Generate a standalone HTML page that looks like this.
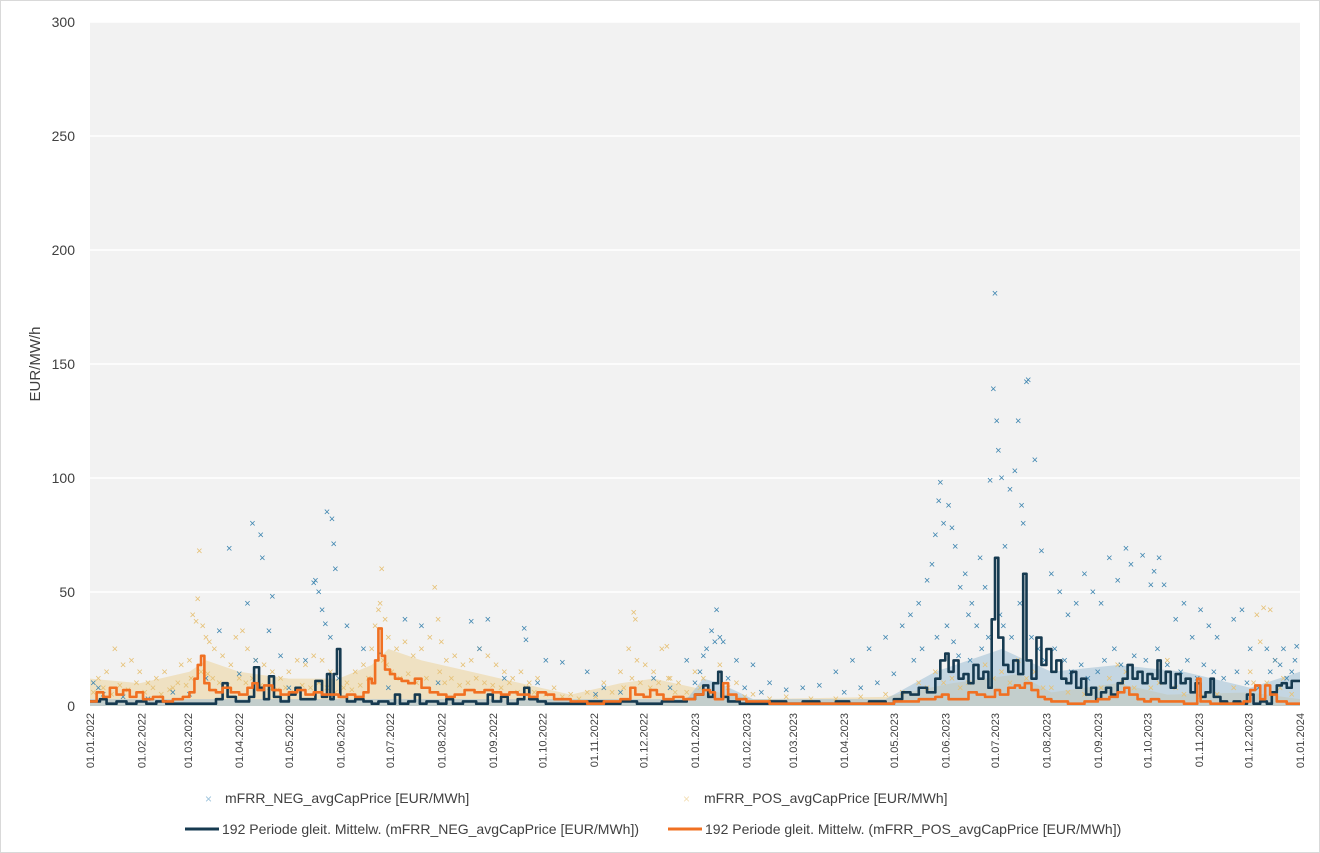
<!DOCTYPE html>
<html><head><meta charset="utf-8"><style>
body{margin:0;background:#fff;}
#wrap{position:relative;width:1320px;height:853px;overflow:hidden;font-family:"Liberation Sans",sans-serif;}
svg text{font-family:"Liberation Sans",sans-serif;fill:#404040;}
</style></head><body>
<div id="wrap">
<svg id="chart" width="1320" height="853">
<rect x="0.5" y="0.5" width="1319" height="852" fill="#fff" stroke="#d9d9d9"/>
<rect x="90" y="22" width="1210" height="684" fill="#f2f2f2"/>
<g id="grid"></g><g id="haze"></g><g id="scatter"></g><g id="lines"></g><g id="axes"></g>
<text x="40" y="364" font-size="15" text-anchor="middle" transform="rotate(-90 40 364)">EUR/MW/h</text>
<g>
<text x="205" y="803" font-size="12" style="fill:#9cc3dc">×</text>
<text x="225" y="803" font-size="14">mFRR_NEG_avgCapPrice [EUR/MWh]</text>
<text x="683" y="803" font-size="12" style="fill:#f3dfb5">×</text>
<text x="704" y="803" font-size="14">mFRR_POS_avgCapPrice [EUR/MWh]</text>
<line x1="185" y1="829" x2="219" y2="829" stroke="#163a50" stroke-width="3"/>
<text x="222" y="834" font-size="14">192 Periode gleit. Mittelw. (mFRR_NEG_avgCapPrice [EUR/MWh])</text>
<line x1="668" y1="829" x2="702" y2="829" stroke="#f07022" stroke-width="3"/>
<text x="705" y="834" font-size="14">192 Periode gleit. Mittelw. (mFRR_POS_avgCapPrice [EUR/MWh])</text>
</g>
</svg>
</div>
<script>
const yTicks=[0,50,100,150,200,250,300];
const monthLabels=["01.01.2022","01.02.2022","01.03.2022","01.04.2022","01.05.2022","01.06.2022","01.07.2022","01.08.2022","01.09.2022","01.10.2022","01.11.2022","01.12.2022","01.01.2023","01.02.2023","01.03.2023","01.04.2023","01.05.2023","01.06.2023","01.07.2023","01.08.2023","01.09.2023","01.10.2023","01.11.2023","01.12.2023","01.01.2024"];
const monthDays=[0,31,59,90,120,151,181,212,243,273,304,334,365,396,424,455,485,516,546,577,608,638,669,699,730];
const negPts=[[2,10],[5,8],[8,5],[20,4],[35,3],[50,6],[60,5],[70,12],[78,33],[84,69],[90,14],[95,45],[98,80],[100,20],[103,75],[104,65],[108,33],[110,48],[115,22],[120,8],[130,20],[135,54],[136,55],[138,50],[140,42],[142,36],[143,85],[145,30],[146,82],[147,71],[148,60],[150,12],[155,35],[165,25],[175,23],[180,8],[190,38],[200,35],[210,10],[230,37],[235,25],[240,38],[250,12],[262,34],[263,29],[270,10],[275,20],[285,19],[300,15],[305,5],[310,8],[320,6],[340,12],[350,8],[360,20],[365,10],[368,15],[370,22],[372,25],[375,33],[377,28],[378,42],[380,30],[382,28],[385,12],[390,20],[395,8],[400,18],[405,6],[410,10],[420,7],[430,8],[440,9],[450,15],[455,6],[460,20],[465,8],[470,25],[475,10],[480,30],[485,14],[490,35],[495,40],[497,20],[500,45],[502,25],[505,55],[508,62],[510,75],[511,30],[512,90],[513,98],[515,80],[517,35],[518,88],[520,78],[521,28],[522,70],[524,22],[525,52],[528,58],[530,40],[531,20],[532,45],[535,35],[537,65],[538,25],[540,52],[542,30],[543,99],[545,139],[546,181],[547,125],[548,112],[549,40],[550,100],[551,35],[552,70],[555,95],[556,30],[558,103],[560,125],[561,45],[562,88],[563,80],[565,142],[566,143],[568,30],[570,108],[572,25],[574,68],[576,20],[580,58],[582,25],[585,50],[588,20],[590,40],[592,15],[595,45],[598,18],[600,58],[602,12],[605,50],[608,15],[610,45],[612,20],[615,65],[618,25],[620,55],[622,18],[625,69],[628,62],[630,22],[635,66],[637,20],[640,53],[642,59],[644,25],[645,65],[648,53],[650,18],[655,38],[658,15],[660,45],[662,20],[665,30],[668,12],[670,42],[672,18],[675,35],[678,15],[680,30],[684,12],[690,38],[692,15],[695,42],[698,10],[700,25],[705,8],[710,25],[712,15],[715,20],[718,18],[720,25],[722,12],[725,15],[727,20],[728,26]];
const posPts=[[2,6],[5,12],[8,8],[10,15],[13,5],[15,25],[18,9],[20,18],[23,7],[25,20],[28,10],[30,15],[33,6],[35,10],[38,8],[40,12],[43,5],[45,15],[48,7],[50,8],[53,10],[55,18],[58,9],[60,20],[61,12],[62,40],[64,37],[65,47],[66,68],[67,15],[68,35],[70,30],[71,14],[72,28],[74,12],[75,25],[78,10],[80,22],[83,9],[85,18],[88,30],[90,12],[92,33],[94,10],[95,25],[98,12],[100,20],[103,9],[105,18],[108,8],[110,15],[113,7],[115,12],[118,8],[120,15],[123,6],[125,20],[128,9],[130,18],[133,8],[135,22],[138,10],[140,20],[143,8],[145,15],[148,6],[150,12],[153,8],[155,10],[158,7],[160,15],[163,9],[165,18],[168,12],[170,25],[172,35],[174,42],[175,45],[176,60],[177,20],[178,38],[179,18],[180,30],[182,15],[185,25],[187,12],[190,28],[192,14],[195,22],[197,10],[200,25],[203,12],[205,30],[208,52],[210,38],[211,15],[212,28],[214,10],[215,20],[218,12],[220,22],[223,9],[225,18],[228,10],[230,20],[233,12],[235,25],[238,10],[240,22],[243,9],[245,18],[248,8],[250,15],[253,10],[255,12],[258,6],[260,15],[263,8],[265,10],[268,6],[270,12],[275,5],[280,8],[285,4],[290,5],[295,3],[300,6],[305,4],[310,10],[315,6],[320,15],[322,8],[325,25],[327,12],[328,41],[329,38],[330,20],[332,10],[335,18],[338,8],[340,15],[343,10],[345,25],[348,26],[349,12],[350,12],[353,6],[355,10],[360,6],[365,15],[368,8],[370,12],[375,6],[380,18],[385,8],[390,10],[395,4],[400,5],[410,3],[420,4],[435,3],[450,3],[465,4],[480,5],[490,6],[500,10],[505,8],[510,15],[515,10],[520,12],[525,8],[530,10],[540,18],[545,12],[550,15],[555,10],[560,20],[565,12],[570,15],[575,8],[580,8],[590,6],[600,5],[610,8],[615,12],[620,18],[623,10],[625,15],[630,8],[640,8],[645,10],[650,20],[655,8],[660,5],[670,4],[680,5],[690,8],[700,15],[702,10],[704,40],[706,28],[708,43],[710,10],[712,42],[715,20],[718,8],[720,12],[725,5]];
const negMA=[[0,2],[6,3],[10,1],[16,2],[22,1],[28,2],[34,1],[40,2],[46,1],[52,1],[70,1],[76,3],[80,10],[83,4],[88,2],[96,4],[99,17],[102,8],[105,3],[108,13],[111,4],[115,2],[120,5],[124,8],[127,3],[132,3],[136,11],[140,4],[143,14],[145,3],[147,14],[149,25],[151,4],[155,2],[160,3],[165,2],[170,1],[174,2],[180,1],[184,5],[187,1],[192,2],[196,5],[199,1],[203,2],[210,1],[215,3],[219,1],[225,2],[233,1],[240,5],[243,2],[248,4],[252,1],[258,3],[262,8],[265,3],[270,2],[275,1],[290,1],[300,2],[310,1],[320,2],[330,1],[345,2],[360,3],[365,5],[370,9],[373,4],[376,10],[379,15],[381,4],[385,2],[392,1],[410,2],[420,1],[430,2],[440,1],[450,2],[458,1],[470,2],[480,1],[485,3],[490,6],[495,5],[500,8],[505,6],[510,12],[513,20],[516,23],[518,15],[521,20],[524,12],[527,14],[530,10],[533,18],[536,12],[539,15],[542,8],[544,38],[546,65],[548,30],[551,18],[554,15],[557,20],[560,14],[563,58],[565,20],[568,12],[571,30],[574,18],[577,25],[580,15],[583,20],[586,12],[589,10],[592,15],[595,8],[598,12],[601,5],[604,8],[607,3],[610,6],[613,8],[616,5],[620,10],[623,12],[626,18],[629,12],[632,15],[635,10],[638,14],[641,12],[644,20],[646,10],[649,15],[652,8],[655,14],[658,10],[661,12],[664,6],[667,10],[670,4],[673,6],[676,12],[678,4],[682,2],[686,1],[690,2],[694,1],[698,5],[702,1],[706,2],[710,1],[713,6],[716,9],[719,10],[722,8],[725,11],[729,11]];
const posMA=[[0,2],[4,6],[8,4],[12,8],[16,5],[20,7],[24,4],[28,6],[32,3],[38,4],[44,2],[50,3],[56,4],[60,6],[63,12],[65,18],[67,22],[69,10],[72,7],[76,6],[80,8],[85,6],[90,5],[95,8],[98,10],[101,7],[105,9],[110,7],[115,5],[120,6],[125,7],[130,5],[135,6],[140,5],[145,5],[150,4],[155,5],[160,4],[165,6],[168,12],[170,10],[172,20],[174,34],[176,22],[178,16],[181,14],[184,12],[188,11],[192,10],[196,12],[200,8],[205,6],[210,5],[215,4],[220,5],[226,7],[232,6],[238,7],[243,6],[248,5],[253,6],[258,5],[265,4],[270,6],[275,5],[280,3],[290,2],[300,1],[310,2],[320,3],[326,8],[329,5],[334,4],[338,7],[342,5],[346,3],[352,4],[358,3],[365,5],[370,7],[374,6],[377,3],[382,10],[385,5],[390,3],[396,2],[410,1],[430,1],[450,1],[470,1],[485,2],[500,3],[510,4],[514,5],[518,3],[525,3],[530,6],[535,5],[540,4],[546,7],[549,5],[554,8],[558,9],[561,8],[564,10],[568,7],[572,4],[576,3],[580,2],[590,1],[600,2],[608,3],[615,4],[620,6],[624,8],[627,5],[632,3],[636,2],[640,3],[645,2],[650,2],[660,1],[665,1],[668,12],[670,2],[676,1],[690,1],[696,2],[700,7],[703,9],[706,3],[709,9],[712,5],[716,2],[722,1],[729,1]];
const posHaze=[[0,12],[30,10],[60,15],[70,20],[90,15],[120,12],[150,12],[170,18],[180,25],[200,20],[230,15],[260,10],[290,5],[320,10],[340,12],[365,8],[400,3],[480,4],[520,10],[560,14],[580,6],[620,10],[650,5],[700,6],[730,3]];
const negHaze=[[0,3],[360,3],[370,12],[380,10],[400,3],[480,3],[510,15],[550,25],[580,15],[620,18],[660,15],[700,8],[730,15]];

const X0=90,X1=1300,Y0=706,Y1=22,DMAX=730,VMAX=300;
const xs=d=>X0+d*(X1-X0)/DMAX;
const ys=v=>Y0-v*(Y0-Y1)/VMAX;
const NS="http://www.w3.org/2000/svg";
function mk(tag,parent){const e=document.createElementNS(NS,tag);parent.appendChild(e);return e;}
const grid=document.getElementById('grid'),axes=document.getElementById('axes'),sc=document.getElementById('scatter'),ln=document.getElementById('lines'),hz=document.getElementById('haze');
yTicks.forEach(t=>{
  if(t>0){const l=mk('line',grid);
    
    
    l.setAttribute('x1',X0);l.setAttribute('x2',X1);l.setAttribute('y1',ys(t));l.setAttribute('y2',ys(t));l.setAttribute('stroke','#fff');l.setAttribute('stroke-width','1.5');}
  const tx=mk('text',axes);
  
  
  tx.setAttribute('x',75);tx.setAttribute('y',ys(t)+5);tx.setAttribute('text-anchor','end');tx.setAttribute('font-size','14');tx.textContent=t;
});
monthLabels.forEach((m,i)=>{
  const x=xs(monthDays[i]);const tx=mk('text',axes);
  
  
  tx.setAttribute('x',x+4);tx.setAttribute('y',713);tx.setAttribute('text-anchor','end');tx.setAttribute('font-size','11');
  tx.setAttribute('transform','rotate(-90 '+(x+4)+' 713)');tx.textContent=m;
});
function drawHaze(pts,color,name){
  let d='M'+xs(pts[0][0])+','+Y0;
  pts.forEach(p=>{d+='L'+xs(p[0])+','+ys(p[1]);});
  d+='L'+xs(pts[pts.length-1][0])+','+Y0+'Z';
  const p=mk('path',hz);
  
  
  p.setAttribute('d',d);p.setAttribute('fill',color);p.setAttribute('opacity','0.55');
}
drawHaze(posHaze,'#ecd49a','pos-scatter-density');
drawHaze(negHaze,'#9fc0d6','neg-scatter-density');
function drawPts(pts,color,name){
  pts.forEach(p=>{const t=mk('text',sc);
    
    
    t.setAttribute('x',xs(p[0]));t.setAttribute('y',ys(p[1])+3.5);t.setAttribute('text-anchor','middle');t.setAttribute('font-size','11');t.setAttribute('style','fill:'+color);t.textContent='×';});
}
drawPts(posPts,'#e6c176','pos-scatter-point');
drawPts(negPts,'#3f86b0','neg-scatter-point');
function drawStep(pts,color,name){
  let d='';
  pts.forEach((p,i)=>{const x=xs(p[0]),y=ys(p[1]);
    if(i===0)d+='M'+x+','+y;else d+='H'+x+'V'+y;});
  d+='H'+xs(730);
  const p=mk('path',ln);
  
  
  p.setAttribute('d',d);p.setAttribute('fill','none');p.setAttribute('stroke',color);p.setAttribute('stroke-width','2.6');p.setAttribute('stroke-linejoin','round');
}
drawStep(negMA,'#163a50','neg-moving-average-line');
drawStep(posMA,'#f07022','pos-moving-average-line');
</script>
</body></html>
